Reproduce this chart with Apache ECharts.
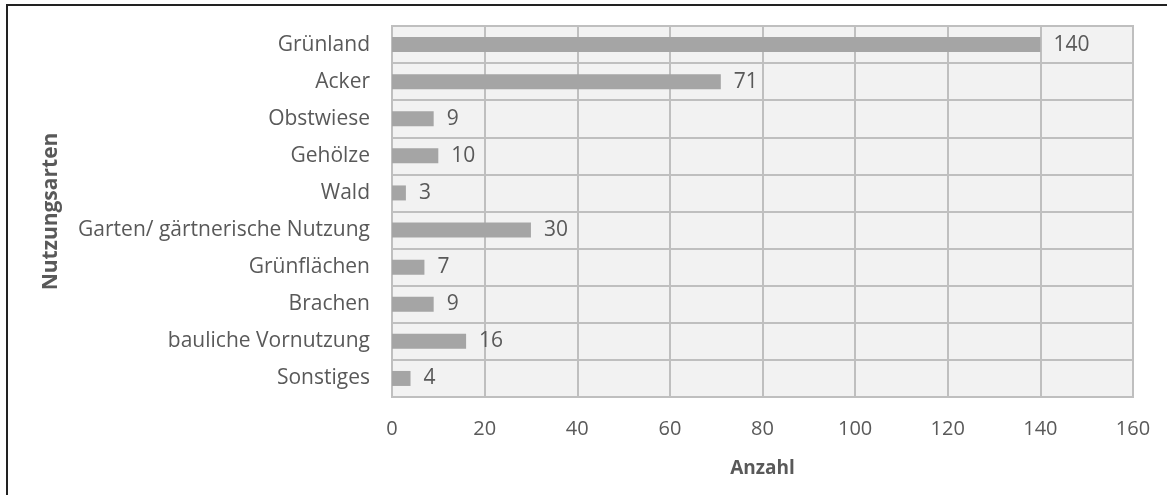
<!DOCTYPE html>
<html>
<head>
<meta charset="utf-8">
<script src="https://cdn.jsdelivr.net/npm/echarts@6/dist/echarts.min.js"></script>
<style>
  html, body { margin: 0; padding: 0; background: #fff; }
  #chart { width: 1167px; height: 495px; }
</style>
</head>
<body>
<div id="chart"></div>
<script>
  const categories = ['Grünland', 'Acker', 'Obstwiese', 'Gehölze', 'Wald',
    'Garten/ gärtnerische Nutzung', 'Grünflächen', 'Brachen', 'bauliche Vornutzung', 'Sonstiges'];
  const values = [140, 71, 9, 10, 3, 30, 7, 9, 16, 4];

  const font = '"Open Sans", "Noto Sans", sans-serif';
  const chart = echarts.init(document.getElementById('chart'));
  chart.setOption({
    animation: false,
    textStyle: { fontFamily: font },
    graphic: [{
      type: 'rect',
      shape: { x: 7, y: 5, width: 1300, height: 700 },
      style: { fill: 'none', stroke: '#222', lineWidth: 2 },
      silent: true
    }],
    grid: {
      left: 392, right: 34, top: 26, bottom: 98,
      show: true, backgroundColor: '#f2f2f2', borderColor: '#bfbfbf', borderWidth: 2
    },
    xAxis: {
      type: 'value',
      min: 0, max: 160, interval: 20,
      name: 'Anzahl',
      nameLocation: 'middle',
      nameGap: 62,
      nameTextStyle: { fontFamily: font, fontSize: 19, fontWeight: 'bold', color: '#595959' },
      axisLine: { show: false },
      axisTick: { show: false },
      axisLabel: { fontFamily: font, fontSize: 20, color: '#595959', margin: 22 },
      splitLine: { lineStyle: { color: '#bfbfbf', width: 2 } }
    },
    yAxis: {
      type: 'category',
      data: categories,
      inverse: true,
      name: 'Nutzungsarten',
      nameLocation: 'middle',
      nameGap: 330,
      nameTextStyle: { fontFamily: font, fontSize: 21, fontWeight: 'bold', color: '#595959' },
      axisLine: { show: true, lineStyle: { color: '#bfbfbf', width: 2 } },
      axisTick: { show: false },
      axisLabel: { fontFamily: font, fontSize: 21, color: '#595959', margin: 22 },
      splitLine: { show: true, lineStyle: { color: '#bfbfbf', width: 2 } }
    },
    series: [{
      type: 'bar',
      data: values,
      barWidth: 15,
      itemStyle: { color: '#a5a5a5' },
      label: {
        show: true, position: 'right', distance: 13,
        fontFamily: font, fontSize: 21, color: '#595959'
      }
    }]
  });
</script>
</body>
</html>
